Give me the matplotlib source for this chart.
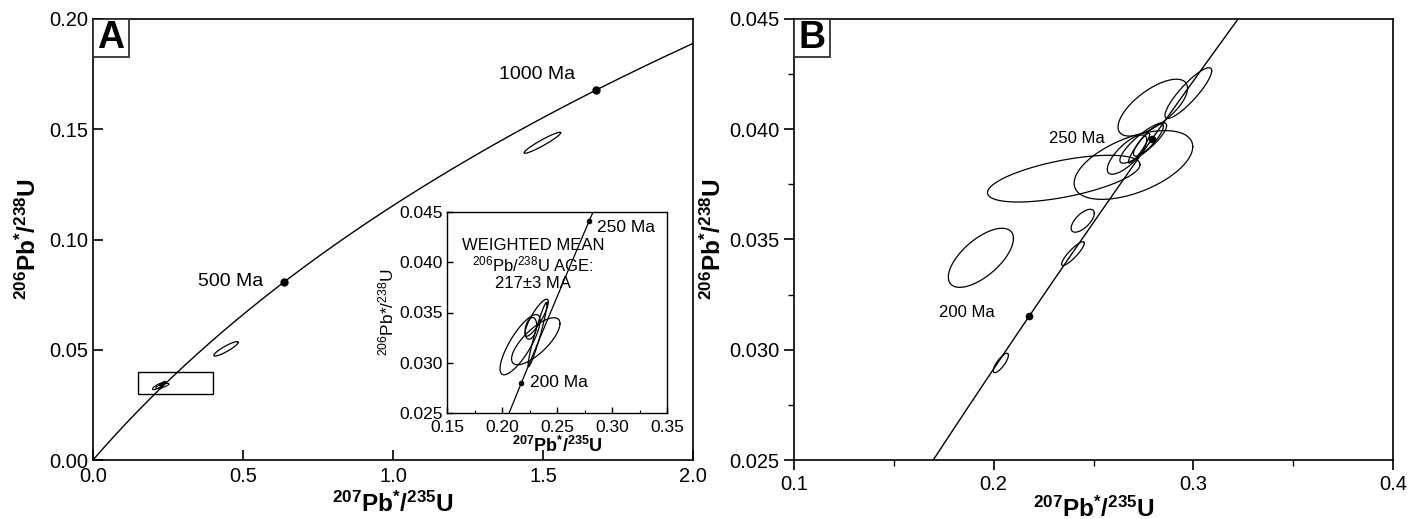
import numpy as np
import matplotlib
matplotlib.use('Agg')
import matplotlib.pyplot as plt

plt.rcParams['font.family'] = ['Liberation Sans', 'DejaVu Sans']
plt.rcParams['mathtext.fontset'] = 'custom'
plt.rcParams['mathtext.rm'] = 'Liberation Sans'
plt.rcParams['mathtext.bf'] = 'Liberation Sans:bold'
plt.rcParams['mathtext.it'] = 'Liberation Sans:italic'

# decay constants (per year) for the concordia curve
LAMBDA_238 = 1.55125e-10
LAMBDA_235 = 9.8485e-10

# age markers on the concordia (Ma)
ages_a = [500, 1000]
ages_b = [200, 250]

# ellipses: centre x (207/235), centre y (206/238), 1-sigma x, 1-sigma y, rho
# panel A, large scale
a_cx = [0.4433, 1.4978]
a_cy = [0.0504, 0.14385]
a_sx = [0.0406, 0.061]
a_sy = [0.00327, 0.00476]
a_rho = [0.90, 0.95]

# inset / small cluster near 217 Ma
in_cx = [0.2164, 0.2307, 0.2315, 0.2262, 0.2323]
in_cy = [0.0334, 0.03357, 0.03474, 0.03421, 0.0339]
in_sx = [0.0182, 0.022, 0.0106, 0.0053, 0.0086]
in_sy = [0.0015, 0.00117, 0.00092, 0.00054, 0.0016]
in_rho = [0.80, 0.75, 0.85, 0.30, 0.95]

# panel B
b_cx = [0.1936, 0.2446, 0.2397, 0.2036, 0.2351, 0.2700, 0.2797, 0.2975, 0.2668, 0.2749, 0.2728, 0.2775]
b_cy = [0.03417, 0.03585, 0.03436, 0.0294, 0.03776, 0.03838, 0.04098, 0.04164, 0.03885, 0.03938, 0.03914, 0.03951]
b_sx = [0.0163, 0.0058, 0.0057, 0.0038, 0.0382, 0.0297, 0.0174, 0.0117, 0.0099, 0.0117, 0.0053, 0.0075]
b_sy = [0.00134, 0.00052, 0.00054, 0.00044, 0.00106, 0.00156, 0.00129, 0.00115, 0.00089, 0.00092, 0.00068, 0.00073]
b_rho = [0.65, 0.65, 0.88, 0.80, 0.60, 0.53, 0.68, 0.88, 0.75, 0.85, 0.92, 0.85]

# inset y axis: plotted range and the tick labels printed on it
inset_ypos = [0.030, 0.0325, 0.035, 0.0375, 0.040]
inset_ylabels = ['0.025', '0.030', '0.035', '0.040', '0.045']

XLAB = r'$\mathbf{^{207}Pb^{*}/^{235}U}$'
YLAB = r'$\mathbf{^{206}Pb^{*}/^{238}U}$'


def concordia(t_ma):
    t = np.asarray(t_ma) * 1e6
    return np.exp(LAMBDA_235 * t) - 1, np.exp(LAMBDA_238 * t) - 1


def draw_ellipses(ax, cx, cy, sx, sy, rho, lw=0.9):
    t = np.linspace(0, 2 * np.pi, 200)
    for x0, y0, a, b, r in zip(cx, cy, sx, sy, rho):
        x = x0 + a * np.cos(t)
        y = y0 + b * (r * np.cos(t) + np.sqrt(1 - r ** 2) * np.sin(t))
        ax.plot(x, y, color='black', lw=lw)


def panel_letter(ax, s, w, h):
    # boxed letter sitting in the top-left corner of the axes
    ax.add_patch(plt.Rectangle((0, 1 - h), w, h, transform=ax.transAxes,
                               fc='white', ec='#333333', lw=1.3, zorder=5))
    ax.text(w / 2, 1 - h / 2, s, transform=ax.transAxes, ha='center', va='center',
            fontsize=27, fontweight='bold', zorder=6)


t_line = np.linspace(0, 1300, 600)
cx_line, cy_line = concordia(t_line)

fig = plt.figure(figsize=(14.19, 5.19), dpi=100)

# ---------- panel A
axA = fig.add_axes([93 / 1419, 59 / 519, 600 / 1419, 441 / 519])
axA.plot(cx_line, cy_line, color='black', lw=1.0)
mx, my = concordia(ages_a)
axA.plot(mx, my, 'o', color='black', ms=5)
axA.text(mx[0] - 0.07, my[0] + 0.0005, '500 Ma', ha='right', va='center', fontsize=14)
axA.text(mx[1] - 0.07, my[1] + 0.007, '1000 Ma', ha='right', va='center', fontsize=14)
draw_ellipses(axA, a_cx, a_cy, a_sx, a_sy, a_rho)
draw_ellipses(axA, in_cx, in_cy, in_sx, in_sy, in_rho, lw=0.8)
axA.add_patch(plt.Rectangle((0.15, 0.03), 0.25, 0.01, fill=False, ec='black', lw=1.0))
axA.set_xlim(0, 2.0)
axA.set_ylim(0, 0.20)
axA.set_xticks([0.0, 0.5, 1.0, 1.5, 2.0])
axA.set_yticks([0.00, 0.05, 0.10, 0.15, 0.20])
axA.xaxis.set_major_formatter(matplotlib.ticker.FormatStrFormatter('%.1f'))
axA.yaxis.set_major_formatter(matplotlib.ticker.FormatStrFormatter('%.2f'))
axA.tick_params(direction='in', length=7, width=1.2, labelsize=14.5)
axA.tick_params(axis='x', pad=5)
axA.set_xlabel(XLAB, fontsize=17.5, labelpad=4)
axA.set_ylabel(YLAB, fontsize=17.5, labelpad=6)
for s in axA.spines.values():
    s.set_linewidth(1.2)
panel_letter(axA, 'A', 36 / 600, 38 / 441)

# ---------- inset
axI = fig.add_axes([447 / 1419, 106 / 519, 220 / 1419, 201 / 519])
axI.plot(cx_line, cy_line, color='black', lw=0.9)
ix, iy = concordia(ages_b)
axI.plot(ix, iy, 'o', color='black', ms=3)
axI.text(ix[0] + 0.008, iy[0], '200 Ma', ha='left', va='center', fontsize=12.5)
axI.text(ix[1] + 0.007, iy[1] - 0.0003, '250 Ma', ha='left', va='center', fontsize=12.5)
axI.text(0.228, 0.0374, 'WEIGHTED MEAN\n$^{206}$Pb/$^{238}$U AGE:\n217\u00b13 MA',
         ha='center', va='center', fontsize=12, linespacing=1.1)
draw_ellipses(axI, in_cx, in_cy, in_sx, in_sy, in_rho, lw=0.9)
axI.set_xlim(0.15, 0.35)
axI.set_ylim(0.030, 0.040)
axI.set_xticks([0.15, 0.20, 0.25, 0.30, 0.35])
axI.set_xticks([0.175, 0.225, 0.275, 0.325], minor=True)
axI.xaxis.set_major_formatter(matplotlib.ticker.FormatStrFormatter('%.2f'))
axI.set_yticks(inset_ypos)
axI.set_yticklabels(inset_ylabels)
axI.tick_params(direction='in', length=4, width=1.0, labelsize=12.5, pad=3)
axI.tick_params(axis='x', pad=5)
axI.tick_params(which='minor', direction='in', length=2.5, width=0.8)
axI.set_xlabel(XLAB, fontsize=13, labelpad=1)
axI.set_ylabel('$^{206}$Pb*/$^{238}$U', fontsize=12.5, labelpad=2)
for s in axI.spines.values():
    s.set_linewidth(1.0)

# ---------- panel B
axB = fig.add_axes([794 / 1419, 59 / 519, 599 / 1419, 441 / 519])
axB.plot(cx_line, cy_line, color='black', lw=1.0)
bx, by = concordia(ages_b)
axB.plot(bx, by, 'o', color='black', ms=4.5)
axB.text(bx[0] - 0.031, by[0] + 0.00016, '200 Ma', ha='center', va='center', fontsize=12)
axB.text(bx[1] - 0.0376, by[1] + 0.00006, '250 Ma', ha='center', va='center', fontsize=12)
draw_ellipses(axB, b_cx, b_cy, b_sx, b_sy, b_rho)
axB.set_xlim(0.1, 0.4)
axB.set_ylim(0.025, 0.045)
axB.set_xticks([0.1, 0.2, 0.3, 0.4])
axB.set_xticks([0.15, 0.25, 0.35], minor=True)
axB.set_yticks([0.025, 0.030, 0.035, 0.040, 0.045])
axB.set_yticks([0.0275, 0.0325, 0.0375, 0.0425], minor=True)
axB.xaxis.set_major_formatter(matplotlib.ticker.FormatStrFormatter('%.1f'))
axB.yaxis.set_major_formatter(matplotlib.ticker.FormatStrFormatter('%.3f'))
axB.tick_params(direction='out', length=7, width=1.2, labelsize=14.5)
axB.tick_params(which='minor', direction='out', length=4, width=1.0)
axB.set_xlabel(XLAB, fontsize=17.5, labelpad=2)
axB.set_ylabel(YLAB, fontsize=17.5, labelpad=2)
for s in axB.spines.values():
    s.set_linewidth(1.2)
panel_letter(axB, 'B', 36 / 599, 38 / 441)

fig.savefig('out.png', dpi=100)
